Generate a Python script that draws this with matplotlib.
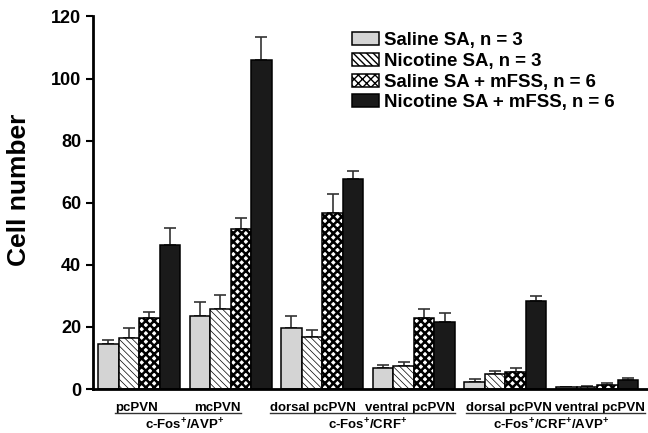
import matplotlib
matplotlib.use("Agg")
import matplotlib.pyplot as plt
import numpy as np
from matplotlib.lines import Line2D

plt.rcParams['font.family'] = ['Liberation Sans', 'DejaVu Sans']
plt.rcParams['font.weight'] = 'bold'
plt.rcParams['mathtext.fontset'] = 'custom'
plt.rcParams['mathtext.rm'] = 'Liberation Sans:bold'
plt.rcParams['mathtext.bf'] = 'Liberation Sans:bold'
plt.rcParams['mathtext.default'] = 'bf'

# data
regions = ['pcPVN', 'mcPVN', 'dorsal pcPVN', 'ventral pcPVN', 'dorsal pcPVN', 'ventral pcPVN']
markers = [r'c-Fos$^{+}$/AVP$^{+}$', r'c-Fos$^{+}$/CRF$^{+}$', r'c-Fos$^{+}$/CRF$^{+}$/AVP$^{+}$']
series = ['Saline SA, n = 3', 'Nicotine SA, n = 3', 'Saline SA + mFSS, n = 6', 'Nicotine SA + mFSS, n = 6']
saline = [14.4, 23.6, 19.8, 6.7, 2.4, 0.6]
saline_err = [1.4, 4.4, 3.7, 1.0, 0.7, 0.2]
nicotine = [16.3, 25.7, 16.9, 7.4, 4.7, 0.7]
nicotine_err = [3.3, 4.6, 2.1, 1.2, 1.2, 0.2]
saline_fss = [23.0, 51.6, 56.7, 23.0, 5.5, 1.4]
saline_fss_err = [1.7, 3.5, 6.2, 2.7, 1.2, 0.4]
nicotine_fss = [46.4, 106.1, 67.8, 21.7, 28.2, 2.9]
nicotine_fss_err = [5.6, 7.2, 2.5, 2.7, 1.9, 0.5]

values = [saline, nicotine, saline_fss, nicotine_fss]
errors = [saline_err, nicotine_err, saline_fss_err, nicotine_fss_err]
colors = ['#d4d4d4', 'white', 'white', '#1a1a1a']
hatches = [None, '\\\\\\\\\\', 'xxxx', None]
hatch_lw = [1.0, 0.5, 1.8, 1.0]
# small nudges of the region labels, in group units
label_shift = [-0.03, -0.14, -0.1, -0.04, 0.04, 0.03]

fig = plt.figure(figsize=(6.48, 4.33), dpi=100)
ax = fig.add_axes([0.1435, 0.1016, 0.8545, 0.8604])

w = 0.224
x = np.arange(len(regions))
handles = []
for k in range(4):
    with plt.rc_context({'hatch.linewidth': hatch_lw[k]}):
        bars = ax.bar(x + k * w, values[k], w, align='edge', color=colors[k],
                      edgecolor='black', linewidth=1.1, hatch=hatches[k],
                      label=series[k], zorder=2)
    ax.errorbar(x + k * w + w / 2, values[k], yerr=[np.zeros(6), errors[k]],
                fmt='none', ecolor='#333333', elinewidth=1.2, capsize=4,
                capthick=1.2, zorder=1)
    handles.append(bars)

ax.set_xlim(-0.055, 5.99)
ax.set_ylim(0, 120)
ax.set_yticks(np.arange(0, 121, 20))
ax.set_xticks([])
ax.tick_params(axis='y', labelsize=13, width=1.5, length=5)
for s in ['top', 'right']:
    ax.spines[s].set_visible(False)
for s in ['left', 'bottom']:
    ax.spines[s].set_linewidth(2)
ax.set_ylabel('Cell number', fontsize=19, fontweight='bold')
ax.yaxis.set_label_coords(-0.112, 0.534)

ax.legend(handles=handles, loc='upper left', bbox_to_anchor=(0.467, 0.958),
          frameon=False, fontsize=13.4, handlelength=1.5, handleheight=0.7,
          handletextpad=0.25, labelspacing=0.2, borderpad=0, borderaxespad=0)

# group labels under the axis
trans = ax.get_xaxis_transform()
row1 = []
for i, r in enumerate(regions):
    t = ax.text(i + 2 * w + label_shift[i], -0.05, r, transform=trans,
                ha='center', va='center', fontsize=9.5, fontweight='bold')
    row1.append(t)
for j, m in enumerate(markers):
    ax.text(2 * j + 0.5 + 2 * w, -0.096, m, transform=trans, ha='center',
            va='center', fontsize=9.5, fontweight='bold')

fig.canvas.draw()
r = fig.canvas.get_renderer()
for j in range(3):
    b1 = row1[2 * j].get_window_extent(r)
    b2 = row1[2 * j + 1].get_window_extent(r)
    y = b1.y0 + 1
    fig.add_artist(Line2D([b1.x0, b2.x1], [y, y], transform=None,
                          color='#333333', linewidth=1))

fig.savefig('out.png', dpi=100)
